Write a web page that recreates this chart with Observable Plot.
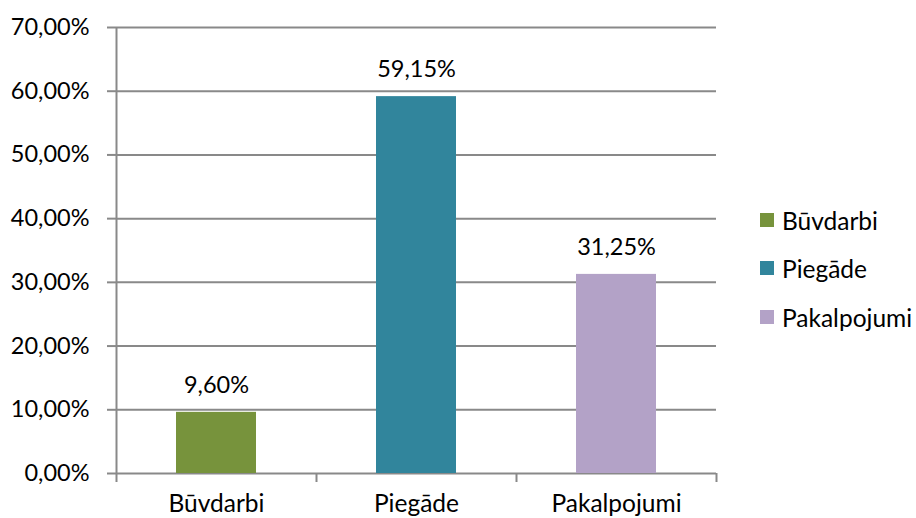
<!DOCTYPE html>
<html>
<head>
<meta charset="utf-8">
<script src="https://cdn.jsdelivr.net/npm/d3@7"></script>
<script src="https://cdn.jsdelivr.net/npm/@observablehq/plot@0.6"></script>
<style>
  html, body { margin: 0; padding: 0; background: #fff; }
  #wrap { position: relative; width: 916px; height: 518px; overflow: hidden; font-family: Lato, "Open Sans", sans-serif; }
  #legend { position: absolute; left: 760px; top: 0; }
  .item { position: absolute; left: 0; display: flex; align-items: center; white-space: nowrap; font-size: 24.5px; color: #000; }
  .sw { width: 14px; height: 14px; margin-right: 8px; }
</style>
</head>
<body>
<div id="wrap"><div id="legend"></div></div>
<script>
const categories = ["Būvdarbi", "Piegāde", "Pakalpojumi"];
const values = [0.096, 0.5915, 0.3125];
const colors = ["#77933C", "#31859C", "#B3A2C7"];
const yTicks = [0, 0.1, 0.2, 0.3, 0.4, 0.5, 0.6, 0.7];

const locale = d3.formatLocale({decimal: ",", thousands: " ", grouping: [3], currency: ["", "€"]});
const fmt = locale.format(".2%");

const data = categories.map((c, i) => ({category: c, value: values[i]}));

const W = 916, H = 518, ML = 116, MR = 200, MT = 27, MB = 45;
const step = (W - ML - MR) / categories.length;
const font = "Lato, 'Open Sans', sans-serif";
const gridColor = "#898989";

const chart = Plot.plot({
  width: W,
  height: H,
  marginLeft: ML,
  marginRight: MR,
  marginTop: MT,
  marginBottom: MB,
  style: {fontFamily: font, fontSize: "23.5px", color: "#000", background: "#fff"},
  x: {domain: categories, paddingInner: 0.6, paddingOuter: 0.3, label: null},
  y: {domain: [0, 0.7], label: null},
  color: {domain: categories, range: colors},
  marks: [
    Plot.ruleY(yTicks, {stroke: gridColor, strokeWidth: 2}),
    Plot.axisY({ticks: yTicks, tickFormat: fmt, tickSize: 9, tickPadding: 18, stroke: gridColor, strokeWidth: 2, strokeOpacity: 1, fontSize: 23.5, fill: "#000", label: null}),
    Plot.ruleX([categories[0]], {x: d => d, dx: -step / 2, y1: 0, y2: 0.7, stroke: gridColor, strokeWidth: 2}),
    Plot.axisX({tickSize: 9, tickFormat: () => "", dx: -step / 2, stroke: gridColor, strokeWidth: 2, strokeOpacity: 1, label: null}),
    Plot.axisX({ticks: [categories[categories.length - 1]], tickSize: 9, tickFormat: () => "", dx: step / 2, stroke: gridColor, strokeWidth: 2, strokeOpacity: 1, label: null}),
    Plot.axisX({tickSize: 0, tickPadding: 21, fontSize: 24.5, fill: "#000", label: null}),
    Plot.barY(data, {x: "category", y: "value", fill: "category"}),
    Plot.text(data, {x: "category", y: "value", text: d => fmt(d.value), dy: -27, fontSize: 23.5, fill: "#000"})
  ]
});
document.getElementById("wrap").prepend(chart);

const legend = document.getElementById("legend");
const rowTops = [220, 268, 317];
categories.forEach((c, i) => {
  const item = document.createElement("div");
  item.className = "item";
  item.style.top = (rowTops[i] - 15) + "px";
  item.style.height = "30px";
  const sw = document.createElement("span");
  sw.className = "sw";
  sw.style.background = colors[i];
  const t = document.createElement("span");
  t.textContent = c;
  item.appendChild(sw);
  item.appendChild(t);
  legend.appendChild(item);
});
</script>
</body>
</html>
